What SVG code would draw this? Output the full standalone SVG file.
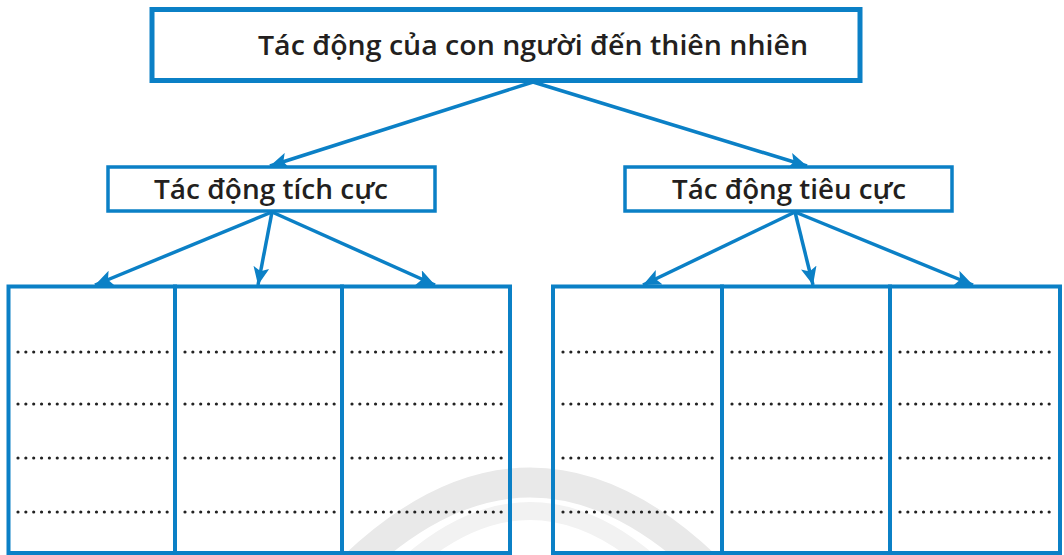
<svg xmlns="http://www.w3.org/2000/svg" width="1064" height="555" viewBox="0 0 1064 555">
<style>
.box{fill:none;stroke:#0b80c6;}
.t{font-family:"Open Sans","Noto Sans","Liberation Sans",sans-serif;font-weight:600;fill:#231f20;text-anchor:middle;}
.con{stroke:#0b80c6;stroke-width:3.5;fill:none;marker-end:url(#ah);}
.dots{stroke:#222222;stroke-width:3.2;stroke-linecap:round;stroke-dasharray:0 7.85;}
.wm{fill:none;stroke-linecap:butt;}
</style>
<defs>
<marker id="ah" markerUnits="userSpaceOnUse" markerWidth="20" markerHeight="16" refX="18" refY="8" orient="auto">
<path d="M0,0 L18,8 L0,16 L4,8 z" fill="#0b80c6"/>
</marker>
</defs>
<rect width="1064" height="555" fill="#ffffff"/>
<g id="watermark">
<path class="wm" d="M350 570 Q 530 395 710 570" stroke="#e9e9e9" stroke-width="30"/>
<path class="wm" d="M402 570 Q 530 452 658 570" stroke="#f2f2f2" stroke-width="18"/>
</g>
<g id="connectors">
<line class="con" x1="533" y1="82" x2="270" y2="166"/>
<line class="con" x1="533" y1="82" x2="807" y2="166"/>
<line class="con" x1="272" y1="212" x2="95" y2="285"/>
<line class="con" x1="272" y1="212" x2="258" y2="285"/>
<line class="con" x1="272" y1="212" x2="435" y2="285"/>
<line class="con" x1="795" y1="212" x2="643" y2="285"/>
<line class="con" x1="795" y1="212" x2="813" y2="285"/>
<line class="con" x1="795" y1="212" x2="973" y2="285"/>
</g>
<g id="root">
<rect class="box" x="152" y="9.5" width="708" height="71" stroke-width="5"/>
<text class="t" x="533" y="55" font-size="27" textLength="550" lengthAdjust="spacingAndGlyphs">Tác động của con người đến thiên nhiên</text>
</g>
<g id="positive">
<rect class="box" x="108" y="167" width="327" height="44" stroke-width="3.5"/>
<text class="t" x="271" y="199" font-size="27" textLength="234" lengthAdjust="spacingAndGlyphs">Tác động tích cực</text>
</g>
<g id="negative">
<rect class="box" x="625" y="167" width="327" height="44" stroke-width="3.5"/>
<text class="t" x="789" y="199" font-size="27" textLength="234" lengthAdjust="spacingAndGlyphs">Tác động tiêu cực</text>
</g>
<g id="pos1">
<rect class="box" x="8.5" y="286.5" width="166.5" height="266.5" stroke-width="4"/>
<line class="dots" x1="18" y1="352" x2="168" y2="352"/>
<line class="dots" x1="18" y1="404" x2="168" y2="404"/>
<line class="dots" x1="18" y1="458" x2="168" y2="458"/>
<line class="dots" x1="18" y1="512" x2="168" y2="512"/>
</g>
<g id="pos2">
<rect class="box" x="175" y="286.5" width="167" height="266.5" stroke-width="4"/>
<line class="dots" x1="185" y1="352" x2="335" y2="352"/>
<line class="dots" x1="185" y1="404" x2="335" y2="404"/>
<line class="dots" x1="185" y1="458" x2="335" y2="458"/>
<line class="dots" x1="185" y1="512" x2="335" y2="512"/>
</g>
<g id="pos3">
<rect class="box" x="342" y="286.5" width="168" height="266.5" stroke-width="4"/>
<line class="dots" x1="352" y1="352" x2="502" y2="352"/>
<line class="dots" x1="352" y1="404" x2="502" y2="404"/>
<line class="dots" x1="352" y1="458" x2="502" y2="458"/>
<line class="dots" x1="352" y1="512" x2="502" y2="512"/>
</g>
<g id="neg1">
<rect class="box" x="553" y="286.5" width="169" height="266.5" stroke-width="4"/>
<line class="dots" x1="563" y1="352" x2="713" y2="352"/>
<line class="dots" x1="563" y1="404" x2="713" y2="404"/>
<line class="dots" x1="563" y1="458" x2="713" y2="458"/>
<line class="dots" x1="563" y1="512" x2="713" y2="512"/>
</g>
<g id="neg2">
<rect class="box" x="722" y="286.5" width="168" height="266.5" stroke-width="4"/>
<line class="dots" x1="732" y1="352" x2="882" y2="352"/>
<line class="dots" x1="732" y1="404" x2="882" y2="404"/>
<line class="dots" x1="732" y1="458" x2="882" y2="458"/>
<line class="dots" x1="732" y1="512" x2="882" y2="512"/>
</g>
<g id="neg3">
<rect class="box" x="890" y="286.5" width="170" height="266.5" stroke-width="4"/>
<line class="dots" x1="900" y1="352" x2="1050" y2="352"/>
<line class="dots" x1="900" y1="404" x2="1050" y2="404"/>
<line class="dots" x1="900" y1="458" x2="1050" y2="458"/>
<line class="dots" x1="900" y1="512" x2="1050" y2="512"/>
</g>
</svg>
